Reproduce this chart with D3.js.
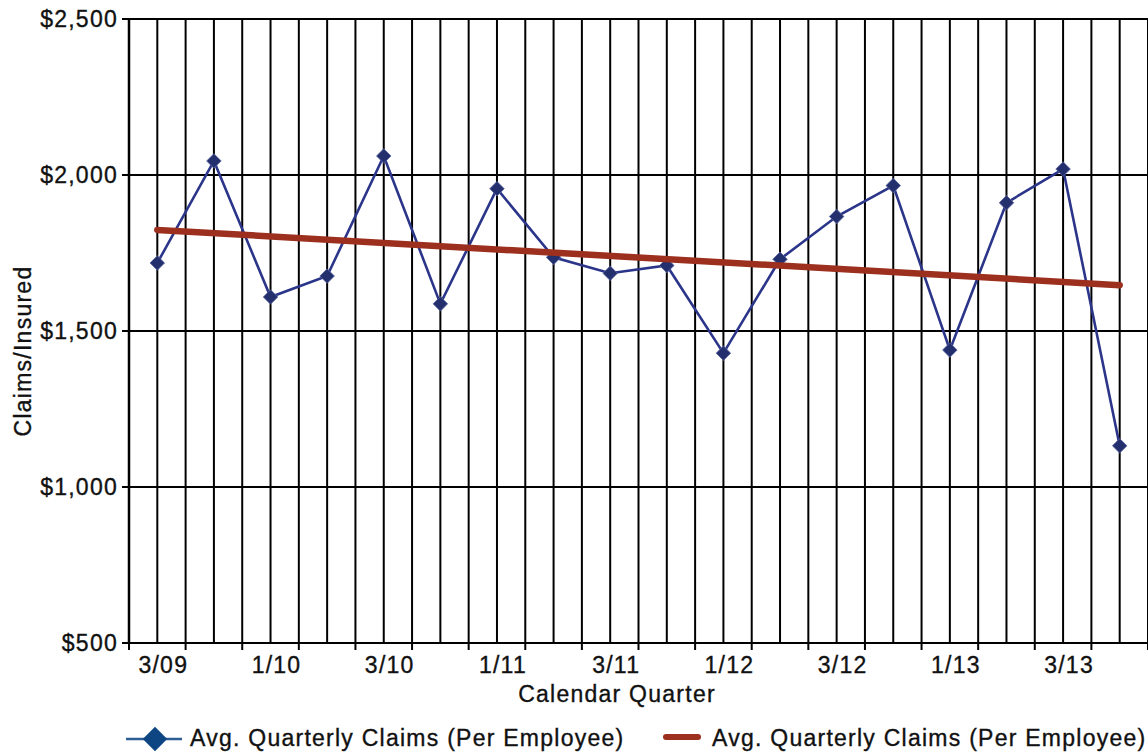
<!DOCTYPE html>
<html>
<head>
<meta charset="utf-8">
<script src="https://cdn.jsdelivr.net/npm/d3@7"></script>
<style>
  html, body { margin: 0; padding: 0; background: #fff; }
  svg { display: block; }
  text { font-family: "Liberation Sans", Arial, sans-serif; fill: #111; }
  .lbl { font-size: 23px; letter-spacing: 1.25px; stroke: #111; stroke-width: 0.35px; }
</style>
</head>
<body>
<svg id="chart" width="1148" height="752"></svg>
<script>
// quarterly claims per insured, 3/09 .. 4/13
const quarters = ["3/09", "4/09", "1/10", "2/10", "3/10", "4/10", "1/11", "2/11", "3/11",
                  "4/11", "1/12", "2/12", "3/12", "4/12", "1/13", "2/13", "3/13", "4/13"];
const claims = [1718, 2045, 1609, 1676, 2061, 1587, 1956, 1736, 1685,
                1710, 1429, 1730, 1867, 1966, 1439, 1911, 2019, 1132];
// linear trend, value at first and last quarter
const trendQuarters = ["3/09", "4/13"];
const trendValues = [1824, 1647];
const yTicks = [500, 1000, 1500, 2000, 2500];
const legendLabels = ["Avg. Quarterly Claims (Per Employee)", "Avg. Quarterly Claims (Per Employee)"];

const BLUE = "#2b3589", NAVY = "#24306e", RED = "#9c2f1e";
const svg = d3.select("#chart");
const M = { l: 129, r: 0, t: 19, b: 643 };

const x = d3.scaleBand().domain(quarters).range([M.l, 1148]);
const y = d3.scaleLinear().domain([500, 2500]).range([M.b, M.t]);
const cx = (q) => x(q) + x.bandwidth() / 2;

// ---- grid ----
const g = svg.append("g");
const bounds = quarters.map((q) => x(q)).concat([x.range()[1]]);
const vlines = bounds.concat(quarters.map(cx));
g.selectAll("line.v").data(vlines).join("line").attr("class", "v")
  .attr("x1", (d) => d).attr("x2", (d) => d)
  .attr("y1", M.t).attr("y2", M.b)
  .attr("stroke", "#000").attr("stroke-width", 2);
g.selectAll("line.h").data(yTicks).join("line").attr("class", "h")
  .attr("x1", M.l - 7).attr("x2", 1148)
  .attr("y1", (d) => y(d)).attr("y2", (d) => y(d))
  .attr("stroke", "#000").attr("stroke-width", 2);
// left axis a touch heavier
g.append("line").attr("x1", M.l).attr("x2", M.l).attr("y1", M.t - 1).attr("y2", M.b + 1)
  .attr("stroke", "#000").attr("stroke-width", 2.5);
// x tick marks at band edges
g.selectAll("line.xt").data(bounds).join("line").attr("class", "xt")
  .attr("x1", (d) => d).attr("x2", (d) => d)
  .attr("y1", M.b).attr("y2", M.b + 7)
  .attr("stroke", "#000").attr("stroke-width", 2);

// ---- axis labels ----
svg.selectAll("text.yl").data(yTicks).join("text").attr("class", "lbl yl")
  .attr("x", 118).attr("y", (d) => y(d)).attr("dy", "0.36em")
  .attr("text-anchor", "end")
  .text((d) => "$" + d3.format(",")(d));

svg.selectAll("text.xl").data(quarters.filter((_, i) => i % 2 === 0)).join("text")
  .attr("class", "lbl xl")
  .attr("x", (d) => cx(d) + 6).attr("y", 673)
  .attr("text-anchor", "middle")
  .text((d) => d);

svg.append("text").attr("class", "lbl")
  .attr("x", 617).attr("y", 702).attr("text-anchor", "middle")
  .text("Calendar Quarter");

svg.append("text").attr("class", "lbl")
  .attr("transform", "translate(31,351) rotate(-90)")
  .attr("text-anchor", "middle")
  .text("Claims/Insured");

// ---- series ----
const line = d3.line().x((d, i) => cx(quarters[i])).y((d) => y(d));
svg.append("path").datum(claims)
  .attr("d", line).attr("fill", "none")
  .attr("stroke", BLUE).attr("stroke-width", 2.6);

const diamond = d3.symbol().type(d3.symbolDiamond2).size(135);
svg.selectAll("path.pt").data(claims).join("path").attr("class", "pt")
  .attr("d", diamond)
  .attr("transform", (d, i) => `translate(${cx(quarters[i])},${y(d)})`)
  .attr("fill", NAVY).attr("stroke", "#5a64a0").attr("stroke-width", 0.8);

svg.append("line")
  .attr("x1", cx(trendQuarters[0])).attr("y1", y(trendValues[0]))
  .attr("x2", cx(trendQuarters[1])).attr("y2", y(trendValues[1]))
  .attr("stroke", RED).attr("stroke-width", 6.5).attr("stroke-linecap", "round");

// ---- legend ----
const lg = svg.append("g");
lg.append("line").attr("x1", 126).attr("x2", 182).attr("y1", 739).attr("y2", 739)
  .attr("stroke", "#2e5e93").attr("stroke-width", 2.5);
lg.append("path").attr("d", d3.symbol().type(d3.symbolDiamond2).size(380))
  .attr("transform", "translate(155,739)").attr("fill", "#0e4683");
lg.append("text").attr("class", "lbl").attr("x", 190).attr("y", 746).text(legendLabels[0]);

lg.append("line").attr("x1", 666).attr("x2", 698).attr("y1", 737).attr("y2", 737)
  .attr("stroke", RED).attr("stroke-width", 6).attr("stroke-linecap", "round");
lg.append("text").attr("class", "lbl").attr("x", 712).attr("y", 746).text(legendLabels[1]);
</script>
</body>
</html>
